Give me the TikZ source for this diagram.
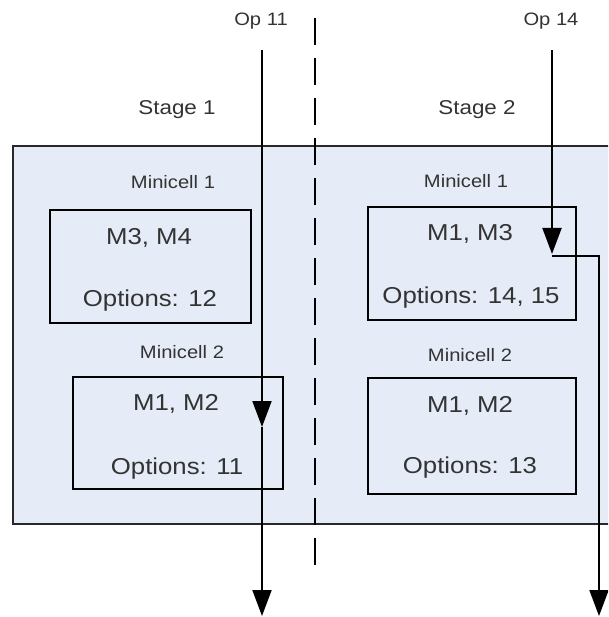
\documentclass[tikz,border=0pt]{standalone}
\usepackage{fontspec}
\setmainfont{Liberation Sans}[FakeStretch=1.12]
\usepackage{tikz}
\usetikzlibrary{arrows.meta,positioning}
\definecolor{panelblue}{RGB}{230,236,247}
\definecolor{panelline}{RGB}{40,40,40}

\begin{document}
\begin{tikzpicture}[x=1pt,y=-1pt,
  txt/.style={inner sep=0pt,text depth=0pt,text=black!80},
  optxt/.style={txt,text height=13pt,font=\fontsize{18}{20}\selectfont},
  stagetxt/.style={txt,text height=14.4pt,font=\fontsize{20}{22}\selectfont},
  celltxt/.style={txt,text height=13pt,font=\fontsize{18}{20}\selectfont},
  boxtxt/.style={txt,text height=16.5pt,font=\fontsize{23}{26}\selectfont},
  cellbox/.style={draw=black,line width=2pt},
  flow/.style={line width=2pt,-{Triangle[width=19pt,length=26pt]}},
  flowplain/.style={line width=2pt}]
\useasboundingbox (0,0) rectangle (608,617);
\clip (0,0) rectangle (608,617);
% Hintergrund der beiden Stufen
\draw[fill=panelblue,draw=panelline,line width=2.2pt] (13,146) rectangle (640,524);
% Minicells
\draw[cellbox] (50,210) rectangle (251,323);
\draw[cellbox] (73,377) rectangle (283,489);
\draw[cellbox] (368,207) rectangle (576,320);
\draw[cellbox] (368,378) rectangle (576,494);
% Trennlinie zwischen Stufe 1 und 2
\draw[line width=2.3pt,dash pattern=on 27pt off 13pt] (315,18) -- (315,575);
% Beschriftungen
\node[stagetxt] (stage1) at (177,107) {Stage 1};
\node[stagetxt] (stage2) at (477,107) {Stage 2};
\node[celltxt] (mc11) at (173,182) {Minicell 1};
\node[celltxt] (mc12) at (182,352) {Minicell 2};
\node[celltxt] (mc21) at (466,181) {Minicell 1};
\node[celltxt] (mc22) at (470,355) {Minicell 2};
\node[boxtxt] (m34) at (149,236) {M3, M4};
\node[boxtxt] (opt12) at (150,298) {Options: 12};
\node[boxtxt] (m12a) at (176,402) {M1, M2};
\node[boxtxt] (opt11) at (177,466) {Options: 11};
\node[boxtxt] (m13) at (470,232) {M1, M3};
\node[boxtxt] (opt1415) at (471,295) {Options: 14, 15};
\node[boxtxt] (m12b) at (470,404) {M1, M2};
\node[boxtxt] (opt13) at (470,465) {Options: 13};
% Operationen
\node[optxt] (op11) at (261,19) {Op 11};
\node[optxt] (op14) at (551,19) {Op 14};
\coordinate (op11top) at (262,50);
\coordinate (op11mid) at (262,427);
\coordinate (op11end) at (262,616);
\coordinate (op14top) at (552,50);
\coordinate (op14mid) at (552,254);
\coordinate (op14turn) at (552,256);
\coordinate (op14corner) at (599,256);
\coordinate (op14end) at (599,616);
\draw[flow] (op11top) -- (op11mid);
\draw[flow] (op11mid) -- (op11end);
\draw[flow] (op14top) -- (op14mid);
\draw[flowplain,-{Triangle[width=19pt,length=26pt]}] (op14turn) -- (op14corner) -- (op14end);
\end{tikzpicture}
\end{document}
